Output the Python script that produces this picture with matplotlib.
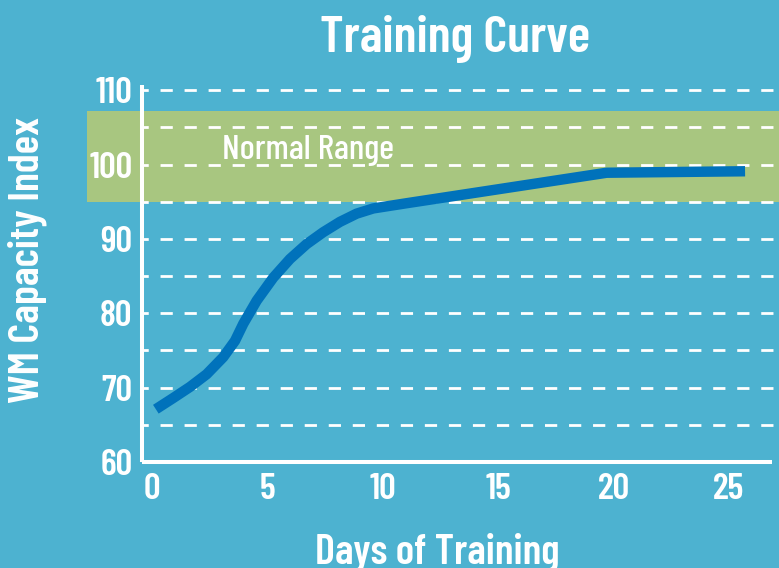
import numpy as np
import matplotlib.pyplot as plt

## Data ##
days = [0.17, 0.92, 1.65, 2.37, 3.09, 3.60, 3.96, 4.54, 5.26, 5.98, 6.70, 7.42, 8.15,
        8.87, 9.59, 11.03, 13.78, 19.7, 25.7]
wm_index = [67.1, 68.6, 70.1, 71.8, 74.1, 76.3, 78.6, 81.7, 84.8, 87.3, 89.3, 90.9, 92.3,
            93.4, 94.1, 94.8, 96.1, 98.9, 99.1]
x_ticks = [0, 5, 10, 15, 20, 25]
y_ticks = [60, 70, 80, 90, 100, 110]
normal_low, normal_high = 95, 107.2

# colours
bg = '#4db2d0'
band = '#a8c680'
line_col = '#0072bb'

plt.rcParams['font.family'] = ['Barlow Condensed', 'DejaVu Sans']
plt.rcParams['lines.scale_dashes'] = False

fig = plt.figure(figsize=(7.79, 5.68), dpi=100, facecolor=bg)
ax = fig.add_axes([142/779, 106/568, 637/779, 377/568])
ax.set_facecolor(bg)

ax.set_xlim(-0.43, 27.17)
ax.set_ylim(60, 110.7)

# normal range band - it sticks out left of the y axis
ax.axhspan(normal_low, normal_high, xmin=-0.0863, xmax=1, color=band, lw=0, clip_on=False, zorder=0)

# dashed guide lines every 5
for yv in np.arange(65, 111, 5):
    ax.axhline(yv, color='white', lw=2, linestyle=(4.3, (8.8, 8.5)), zorder=1)

ax.plot(days, wm_index, color=line_col, lw=7.5, solid_capstyle='butt', solid_joinstyle='round', zorder=3)

ax.text(3.03, 100.8, 'Normal Range', color='white', fontsize=25.5, fontweight='medium',
        va='baseline', ha='left')

for s in ['top', 'right']:
    ax.spines[s].set_visible(False)
for s in ['left', 'bottom']:
    ax.spines[s].set_color('white')
    ax.spines[s].set_linewidth(2.9)
    ax.spines[s].set_zorder(4)
    ax.spines[s].set_capstyle('butt')
ax.spines['bottom'].set_bounds(-0.43, 26.86)

ax.set_xticks(x_ticks)
ax.set_yticks(y_ticks)
ax.tick_params(length=0, colors='white', labelsize=26.5)
ax.tick_params(axis='x', pad=8)
ax.tick_params(axis='y', pad=7)
for lab in ax.get_xticklabels() + ax.get_yticklabels():
    lab.set_fontweight('semibold')

fig.text(455/779, 1 - 52/568, 'Training Curve', color='white', fontsize=37.5, fontweight='semibold',
         ha='center', va='baseline')
fig.text(437/779, 1 - 563/568, 'Days of Training', color='white', fontsize=30.5, fontweight='semibold',
         ha='center', va='baseline')
fig.text(27/779, 1 - 260/568, 'WM Capacity Index', color='white', fontsize=31, fontweight='semibold',
         ha='center', va='center', rotation=90)

fig.savefig('out.png', dpi=100, facecolor=bg)
